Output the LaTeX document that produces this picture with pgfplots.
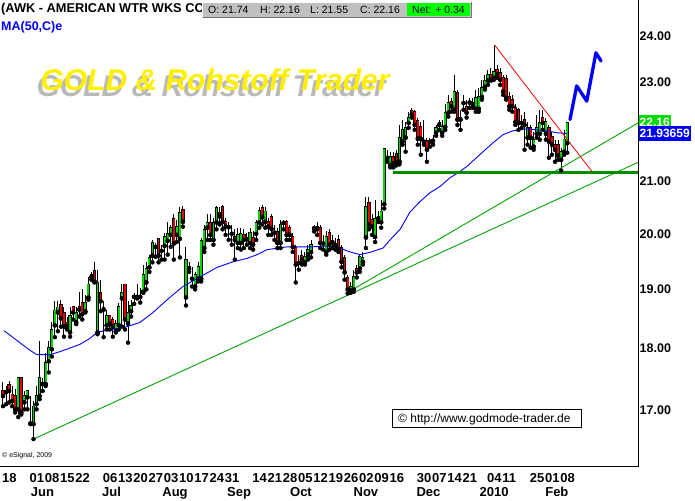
\documentclass[border=0pt]{standalone}
\usepackage{fontspec}
\setmainfont{Liberation Sans}
\usepackage{pgfplots}
\pgfplotsset{compat=1.18}
\usepackage{pgfplotstable}

\definecolor{cup}{RGB}{0,215,0}
\definecolor{cdn}{RGB}{235,0,0}
\definecolor{trend}{RGB}{0,165,0}
\definecolor{support}{RGB}{0,140,0}
\definecolor{boxgray}{RGB}{192,192,192}
\definecolor{netgreen}{RGB}{0,255,0}
\definecolor{lblgreen}{RGB}{0,220,0}
\definecolor{gold}{RGB}{255,240,0}

% up candles (close >= open)
\pgfplotstableread{
i o h l c
1 17.28 17.38 17.09 17.30
5 17.01 17.51 16.89 17.51
7 17.12 17.30 17.01 17.22
8 17.20 17.30 17.01 17.30
9 16.79 17.22 16.78 16.81
10 16.78 17.14 16.55 17.06
11 17.09 17.38 17.01 17.22
12 17.22 18.11 17.17 17.51
13 17.41 17.51 17.30 17.44
14 17.41 17.92 17.38 17.76
15 17.78 18.11 17.60 18.01
16 17.98 18.43 17.86 18.31
17 18.38 18.79 18.18 18.64
18 18.60 18.79 18.28 18.69
22 18.26 18.70 18.19 18.55
24 18.43 18.70 18.40 18.60
27 18.62 18.91 18.60 18.77
28 18.86 19.21 18.82 19.09
29 19.22 19.31 19.17 19.26
31 18.26 19.35 18.23 19.12
34 18.38 18.65 18.31 18.55
37 18.28 18.48 18.26 18.41
38 18.38 18.77 18.31 18.70
39 18.84 19.09 18.36 18.94
41 18.41 18.79 18.09 18.60
42 18.62 18.82 18.53 18.72
43 18.87 18.94 18.75 18.89
45 18.87 19.03 18.77 18.89
46 18.96 19.44 18.94 19.26
47 19.12 19.49 19.00 19.37
48 19.39 19.62 19.31 19.57
49 19.60 19.89 19.48 19.83
52 19.69 19.80 19.53 19.71
53 19.78 20.02 19.53 19.94
54 19.87 20.22 19.62 20.00
55 19.98 20.17 19.76 20.11
57 19.98 20.26 19.85 20.13
58 19.91 20.49 19.57 20.39
60 18.86 19.76 18.72 19.53
62 19.19 19.39 19.05 19.21
63 19.05 19.31 19.00 19.26
64 19.19 19.49 19.14 19.41
65 19.19 19.93 19.14 19.87
66 19.74 20.17 19.67 20.08
67 20.11 20.36 19.89 20.21
69 19.89 20.30 19.80 20.21
70 20.21 20.51 20.08 20.49
74 20.12 20.22 19.89 20.14
75 20.00 20.17 19.80 20.02
77 19.83 20.11 19.74 19.98
78 19.83 20.11 19.71 20.00
80 19.90 20.02 19.80 19.92
81 19.83 20.11 19.74 20.02
83 20.00 20.26 19.89 20.21
84 20.21 20.49 20.11 20.43
86 20.22 20.49 20.11 20.42
91 19.83 20.26 19.74 20.17
92 20.20 20.26 20.08 20.22
97 19.47 19.62 19.35 19.49
99 19.48 19.67 19.44 19.58
100 19.62 19.80 19.53 19.71
101 19.67 19.89 19.57 19.80
102 20.10 20.17 20.04 20.12
105 19.82 19.98 19.71 19.84
106 19.67 20.04 19.62 19.94
108 19.85 19.98 19.74 19.87
114 18.98 19.12 18.94 19.05
115 19.00 19.35 18.96 19.22
117 19.37 19.62 19.31 19.58
118 19.49 19.67 19.44 19.57
119 19.93 20.68 19.74 20.51
122 19.94 20.64 19.85 20.28
123 20.28 20.42 20.22 20.32
124 20.21 20.64 20.11 20.42
125 20.55 21.65 20.47 21.63
126 21.45 21.61 21.37 21.47
127 21.30 21.57 21.26 21.47
130 21.37 22.11 21.32 21.85
131 21.77 22.22 21.71 22.01
132 21.85 22.17 21.57 22.05
133 22.15 22.38 22.05 22.26
138 21.77 22.22 21.71 21.79
140 21.77 21.85 21.67 21.79
141 21.79 21.91 21.71 21.81
142 21.95 22.11 21.89 22.05
144 21.95 22.22 21.89 22.07
145 22.07 22.53 22.01 22.36
146 22.36 22.73 22.28 22.57
148 22.42 23.16 22.38 22.80
150 22.22 22.42 22.01 22.26
151 22.56 22.73 22.42 22.58
153 22.57 22.67 22.46 22.59
154 22.53 22.67 22.46 22.57
155 22.44 22.84 22.38 22.67
156 22.44 22.88 22.38 22.69
157 22.69 23.05 22.63 22.88
158 22.90 23.16 22.84 23.03
159 23.03 23.26 22.94 23.16
161 23.09 23.80 23.05 23.22
170 22.15 22.32 22.05 22.17
172 21.85 22.17 21.71 22.05
174 21.67 21.97 21.61 21.81
175 21.93 22.32 21.85 22.05
176 21.93 22.42 21.81 22.15
178 21.93 22.26 21.81 22.17
183 21.41 21.65 21.20 21.57
184 21.57 22.01 21.51 21.82
185 21.74 22.16 21.55 22.16
}\up

% down candles (close < open)
\pgfplotstableread{
i o h l c
0 17.30 17.44 17.06 17.22
2 17.40 17.46 17.12 17.30
3 17.25 17.38 17.06 17.14
4 17.22 17.33 16.96 17.01
6 17.51 17.52 16.93 16.96
19 18.74 18.82 18.36 18.50
20 18.60 18.70 18.19 18.36
21 18.43 18.53 18.31 18.36
23 18.70 18.70 18.48 18.60
25 18.70 18.96 18.53 18.65
26 18.77 19.00 18.48 18.57
30 19.33 19.49 19.12 19.14
32 18.94 19.17 18.62 18.79
33 18.69 18.79 18.18 18.65
35 18.55 18.55 18.31 18.41
36 18.48 18.53 18.19 18.36
40 19.09 19.09 18.31 18.48
44 18.89 19.09 18.84 18.87
50 19.78 19.83 19.58 19.76
51 19.91 19.91 19.48 19.60
56 20.28 20.36 19.53 19.82
59 20.45 20.51 20.13 20.22
61 19.41 19.48 19.31 19.37
68 20.21 20.36 19.89 19.98
71 20.40 20.49 20.17 20.32
72 20.51 20.53 20.08 20.22
73 20.22 20.30 19.98 20.13
76 19.94 20.08 19.53 19.89
79 19.98 20.08 19.74 19.89
82 19.93 20.04 19.71 19.80
85 20.49 20.53 20.17 20.30
87 20.22 20.30 19.98 20.13
88 20.32 20.36 19.98 20.09
89 20.04 20.17 19.89 20.02
90 20.04 20.11 19.74 19.83
93 20.22 20.26 19.89 19.98
94 20.11 20.17 19.89 19.98
95 19.94 20.02 19.67 19.76
96 19.74 19.80 19.12 19.44
98 19.60 19.71 19.44 19.53
103 20.13 20.22 19.98 20.08
104 20.11 20.17 19.74 19.83
107 20.02 20.08 19.71 19.80
109 19.81 19.93 19.71 19.79
110 19.89 19.98 19.67 19.74
111 19.74 19.80 19.39 19.49
112 19.57 19.62 19.17 19.30
113 19.21 19.26 18.93 19.00
116 19.37 19.44 19.21 19.30
120 20.58 20.68 20.08 20.17
121 20.26 20.36 19.98 20.13
128 21.47 21.57 21.26 21.34
129 21.53 21.61 21.30 21.36
134 22.40 22.46 22.26 22.32
135 22.38 22.42 22.01 22.11
136 22.19 22.26 21.71 21.83
137 22.07 22.17 21.51 21.83
139 21.79 21.85 21.37 21.61
143 22.15 22.22 22.01 22.11
147 22.59 22.67 22.38 22.49
149 22.78 22.84 22.11 22.22
152 22.49 22.63 22.26 22.36
160 23.16 23.31 23.03 23.05
162 23.26 23.37 23.09 23.16
163 23.20 23.31 22.94 23.05
164 23.09 23.16 22.73 22.80
165 23.07 23.16 22.63 22.67
166 22.69 22.80 22.42 22.49
167 22.63 22.73 22.38 22.49
168 22.46 22.53 22.11 22.17
169 22.42 22.46 22.01 22.15
171 22.22 22.38 21.61 22.11
173 22.05 22.11 21.65 21.85
177 22.26 22.42 22.01 22.15
179 22.05 22.11 21.45 21.77
180 21.87 21.97 21.51 21.71
181 21.71 21.81 21.37 21.61
182 21.71 21.81 21.41 21.49
}\down

\pgfplotsset{
  wick/.style={only marks, mark=none, forget plot,
    error bars/.cd, y dir=plus, y explicit, error mark=none,
    error bar style={draw=black, line width=1pt}},
  bodyout/.style={only marks, mark=none, forget plot,
    error bars/.cd, y dir=plus, y explicit, error mark=none,
    error bar style={draw=black, line width=3.2pt, shorten <=-0.6pt, shorten >=-0.6pt}},
  bodyin/.style={only marks, mark=none, forget plot,
    error bars/.cd, y dir=plus, y explicit, error mark=none,
    error bar style={draw=#1, line width=1.8pt, shorten <=0.2pt, shorten >=0.2pt}},
}
\tikzset{mlabel/.style={anchor=north, inner sep=0pt, yshift=-20pt, font=\fontsize{13}{15}\selectfont\bfseries}}

\begin{document}
\begin{tikzpicture}[x=1pt,y=1pt]
\begin{axis}[
  at={(0pt,33pt)}, anchor=south west, scale only axis,
  width=638pt, height=467pt,
  xmin=-0.98, xmax=208.2,
  ymode=log, ymin=16.13, ymax=24.81,
  axis x line*=bottom, axis y line*=right,
  axis line style={black, line width=1pt},
  major tick length=0pt, minor tick num=0,
  ytick={17,18,19,20,21,23,24},
  yticklabels={17.00,18.00,19.00,20.00,21.00,23.00,24.00},
  yticklabel style={anchor=west, inner sep=0pt, xshift=1.5pt,
    font=\fontsize{12.5}{14}\selectfont\bfseries},
  xtick={0,9,14,19,24,33,38,43,48,53,58,63,68,73,82,87,92,97,102,107,112,117,122,127,136,141,146,151,159,164,173,178,183},
  xticklabels={18,01,08,15,22,06,13,20,27,03,10,17,24,31,14,21,28,05,12,19,26,02,09,16,30,07,14,21,04,11,25,01,08},
  xticklabel style={anchor=north west, inner sep=0pt, xshift=-1pt, yshift=-6pt,
    font=\fontsize{13}{15}\selectfont\bfseries},
  clip=false,
]
% wicks
\addplot[wick] table[x=i, y=l, y error expr=\thisrow{h}-\thisrow{l}] {\up};
\addplot[wick] table[x=i, y=l, y error expr=\thisrow{h}-\thisrow{l}] {\down};
% bodies
\addplot[bodyout] table[x=i, y=o, y error expr=\thisrow{c}-\thisrow{o}] {\up};
\addplot[bodyin=cup] table[x=i, y=o, y error expr=\thisrow{c}-\thisrow{o}] {\up};
\addplot[bodyout] table[x=i, y=c, y error expr=\thisrow{o}-\thisrow{c}] {\down};
\addplot[bodyin=cdn] table[x=i, y=c, y error expr=\thisrow{o}-\thisrow{c}] {\down};

% MA(50)
\addplot[blue, line width=0.9pt, mark=none] coordinates {
(0.3,18.29) (8.9,17.96) (11.1,17.89) (15.4,17.89) (18.7,17.94) (25.2,18.06)
(28.5,18.16) (30.8,18.26) (34.1,18.30) (40.7,18.36) (44.9,18.43) (49.2,18.60)
(53.8,18.82) (59,19.05) (64.6,19.22) (70.2,19.39) (75.4,19.49) (80,19.55)
(83.3,19.62) (86.6,19.71) (93.1,19.76) (100.7,19.76) (107.2,19.78) (110.5,19.74)
(113.8,19.67) (117,19.62) (120.3,19.66) (124.6,19.74) (126.9,19.89) (130.2,20.08)
(133.4,20.40) (136.7,20.60) (140,20.77) (143.3,20.89) (146.6,21.06) (149.8,21.18)
(152.1,21.28) (157.4,21.57) (160.7,21.75) (163.9,21.91) (167.2,21.99) (171.8,22.03)
(175.1,22.01) (178.4,21.99) (181.6,21.95) (185,21.93659)};

% trend lines
\addplot[trend, line width=0.9pt, mark=none] coordinates {(10,16.55) (208.2,21.36)};
\addplot[trend, line width=0.9pt, mark=none] coordinates {(112.5,18.93) (208.2,22.15)};
\addplot[support, line width=3pt, mark=none] coordinates {(127.9,21.17) (208.2,21.17)};
\addplot[red, line width=0.8pt, mark=none] coordinates {(161.3,23.79) (193.1,21.18)};
% hand drawn arrow
\addplot[blue, line width=3.3pt, mark=none, line join=round, line cap=round] coordinates {
(185.9,22.22) (188.1,22.92) (191.4,22.60) (194.4,23.63) (196.1,23.45)};

\coordinate (plast) at (axis cs:208.2,22.16);
\coordinate (pma) at (axis cs:208.2,21.93659);

% month labels
\node[mlabel] at (axis cs:12.95,16.13) {Jun};
\node[mlabel] at (axis cs:35.6,16.13) {Jul};
\node[mlabel] at (axis cs:56.4,16.13) {Aug};
\node[mlabel] at (axis cs:77.4,16.13) {Sep};
\node[mlabel] at (axis cs:97.7,16.13) {Oct};
\node[mlabel] at (axis cs:119.0,16.13) {Nov};
\node[mlabel] at (axis cs:139.5,16.13) {Dec};
\node[mlabel] at (axis cs:161.0,16.13) {2010};
\node[mlabel] at (axis cs:181.6,16.13) {Feb};
\end{axis}

% price labels at right
\node[fill=lblgreen, text=white, anchor=west, inner xsep=1pt, inner ysep=0pt,
  minimum height=15pt, font=\fontsize{12}{14}\selectfont\bfseries] at ([xshift=0.5pt]plast) {22.16};
\node[fill=blue, text=white, anchor=west, inner xsep=1pt, inner ysep=0pt,
  minimum height=15pt, font=\fontsize{12}{14}\selectfont\bfseries] at ([xshift=0.5pt]pma) {21.93659};

% header
\node[anchor=base west, inner sep=0pt, font=\fontsize{12.8}{14}\selectfont\bfseries] at (1,487) {(AWK - AMERICAN WTR WKS CO)};
\node[anchor=base west, inner sep=0pt, text=blue, font=\fontsize{12.5}{14}\selectfont\bfseries] at (1,469) {MA(50,C)e};
\fill[boxgray] (202,482) rectangle (472,498);
\draw[white, line width=1pt] (202.5,482.5) -- (202.5,497.5) -- (471.5,497.5);
\draw[black!55, line width=1pt] (202.5,482.5) -- (471.5,482.5) -- (471.5,497.5);
\fill[netgreen] (407,483.5) rectangle (470,496.5);
\begin{scope}[every node/.style={anchor=base west, inner sep=0pt, font=\fontsize{10.5}{12}\selectfont}]
\node at (208,486) {O: 21.74};
\node at (260,486) {H: 22.16};
\node at (310,486) {L: 21.55};
\node at (360,486) {C: 22.16};
\node at (412,486) {Net: + 0.34};
\end{scope}

% title with soft shadow
\begin{scope}[every node/.style={anchor=base, inner sep=0pt, font=\fontsize{30}{34}\selectfont\bfseries\itshape}]
\node[text=black!50, opacity=0.55] at (211,403.5) {GOLD \& Rohstoff Trader};
\node[text=gold] at (215,409) {GOLD \& Rohstoff Trader};
\end{scope}

% copyright boxes
\draw[black, fill=white, line width=0.8pt] (392,73) rectangle (581,91);
\node[anchor=base west, inner sep=0pt, font=\fontsize{12}{14}\selectfont] at (398,77.5) {© http://www.godmode-trader.de};
\node[anchor=base west, inner sep=0pt, font=\fontsize{7}{8}\selectfont] at (2,42) {© eSignal, 2009};

\pgfresetboundingbox
\path[use as bounding box] (0,0) rectangle (695,500);
\end{tikzpicture}
\end{document}
